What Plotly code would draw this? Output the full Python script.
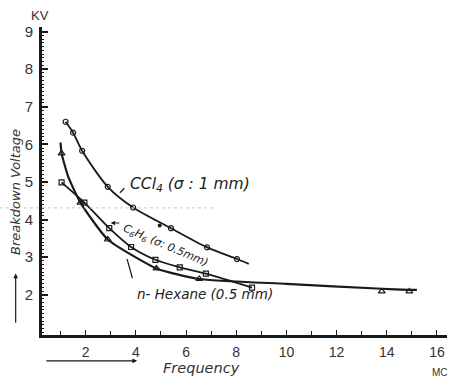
import plotly.graph_objects as go

# --- data ---
ccl4_x = [1.2, 1.5, 1.86, 2.88, 3.89, 5.4, 6.84, 8.03]
ccl4_y = [6.6, 6.31, 5.83, 4.87, 4.32, 3.77, 3.26, 2.95]
ccl4_line_x = [1.2, 1.5, 1.86, 2.88, 3.89, 5.4, 6.84, 8.03, 8.5]
ccl4_line_y = [6.6, 6.31, 5.83, 4.87, 4.32, 3.77, 3.26, 2.95, 2.82]
ccl4_dot_x = [4.95]
ccl4_dot_y = [3.84]

c6h6_x = [1.04, 1.95, 2.94, 3.81, 4.78, 5.75, 6.79, 8.63]
c6h6_y = [4.99, 4.45, 3.77, 3.27, 2.93, 2.73, 2.56, 2.19]

hex_x = [1.04, 1.79, 2.88, 4.82, 6.53, 13.8, 14.9]
hex_y = [5.76, 4.45, 3.47, 2.7, 2.42, 2.09, 2.09]
hex_line_x = [1.0, 1.04, 1.3, 1.79, 2.88, 4.82, 6.53, 10.0, 13.8, 14.9, 15.2]
hex_line_y = [6.05, 5.76, 5.15, 4.45, 3.47, 2.7, 2.42, 2.29, 2.16, 2.13, 2.13]

x_tickvals = [2, 4, 6, 8, 10, 12, 14, 16]
x_ticktext = ["2", "4", "6", "8", "10", "12", "14", "16"]
y_tickvals = [2, 3, 4, 5, 6, 7, 8, 9]

INK = "#1a1a1a"
HAND = "DejaVu Sans"

fig = go.Figure()

# curves
fig.add_trace(go.Scatter(x=ccl4_line_x, y=ccl4_line_y, mode="lines",
                         line=dict(color=INK, width=1.8, shape="spline", smoothing=0.8), hoverinfo="skip"))
fig.add_trace(go.Scatter(x=c6h6_x, y=c6h6_y, mode="lines",
                         line=dict(color=INK, width=1.8, shape="spline", smoothing=0.8), hoverinfo="skip"))
fig.add_trace(go.Scatter(x=hex_line_x, y=hex_line_y, mode="lines",
                         line=dict(color=INK, width=2.2, shape="spline", smoothing=0.5), hoverinfo="skip"))

# markers
fig.add_trace(go.Scatter(x=ccl4_x, y=ccl4_y, mode="markers",
                         marker=dict(symbol="circle-open", size=5, color=INK, line=dict(width=1.2))))
fig.add_trace(go.Scatter(x=ccl4_dot_x, y=ccl4_dot_y, mode="markers",
                         marker=dict(symbol="circle", size=4, color=INK)))
fig.add_trace(go.Scatter(x=c6h6_x, y=c6h6_y, mode="markers",
                         marker=dict(symbol="square-open", size=5, color=INK, line=dict(width=1.2))))
fig.add_trace(go.Scatter(x=hex_x, y=hex_y, mode="markers",
                         marker=dict(symbol="triangle-up-open", size=6, color=INK, line=dict(width=1.2))))

fig.update_layout(
    width=452, height=378,
    margin=dict(l=42, r=5, t=27, b=43),
    paper_bgcolor="white", plot_bgcolor="white",
    showlegend=False,
    font=dict(family="Liberation Sans", color=INK, size=14),
)

fig.update_xaxes(
    range=[0.26, 16.4], showgrid=False, zeroline=False,
    showline=True, linecolor=INK, linewidth=2.5,
    tickvals=x_tickvals, ticktext=x_ticktext,
    ticks="inside", ticklen=5, tickwidth=1.2, tickcolor=INK,
    minor=dict(dtick=1, ticks="inside", ticklen=4, tickwidth=1, tickcolor=INK),
    tickfont=dict(size=14, family="Liberation Sans", color="#333"),
    ticklabelstandoff=2,
)
fig.update_yaxes(
    range=[0.93, 9.12], showgrid=False, zeroline=False,
    showline=True, linecolor=INK, linewidth=3,
    tickvals=y_tickvals,
    ticks="inside", ticklen=6, tickwidth=1.5, tickcolor=INK,
    minor=dict(dtick=0.1, ticks="inside", ticklen=2, tickwidth=1, tickcolor=INK),
    tickfont=dict(size=15, family="Liberation Sans", color="#333"),
    ticklabelstandoff=3,
)

# scan artefact: faint dotted line
fig.add_shape(type="line", xref="paper", yref="y", x0=-0.104, x1=0.427, y0=4.31, y1=4.31,
              line=dict(color="#c8c8c8", width=1, dash="dot"))

ann = []
ann.append(dict(xref="paper", yref="paper", x=-0.005, y=1.0, yshift=2, text="KV",
                showarrow=False, xanchor="center", yanchor="bottom",
                font=dict(size=13, family="Liberation Sans", color="#333")))
ann.append(dict(xref="paper", yref="paper", x=0.983, y=0, yshift=-30, text="MC",
                showarrow=False, xanchor="center", yanchor="top",
                font=dict(size=10, family="Liberation Sans", color="#333")))
ann.append(dict(xref="paper", yref="paper", x=0.393, y=0, yshift=-33, text="<i>Frequency</i>",
                showarrow=False, xanchor="center", yanchor="middle",
                font=dict(size=14.5, family=HAND, color="#333")))
ann.append(dict(xref="paper", yref="paper", x=-0.067, y=0.464, text="<i>Breakdown Voltage</i>",
                showarrow=False, textangle=-90, xanchor="center", yanchor="middle",
                font=dict(size=13, family=HAND, color="#333")))
# curve labels
ann.append(dict(x=6.15, y=4.93, text="<i>CCl<sub>4</sub> (σ : 1 mm)</i>", showarrow=False,
                xanchor="center", yanchor="middle", font=dict(size=15.5, family=HAND, color="#222")))
ann.append(dict(x=5.2, y=3.3, text="<i>C<sub>6</sub>H<sub>6</sub> (σ: 0.5mm)</i>", showarrow=False,
                textangle=23, xanchor="center", yanchor="middle",
                font=dict(size=11, family=HAND, color="#222")))
ann.append(dict(x=6.75, y=2.03, text="<i>n- Hexane (0.5 mm)</i>", showarrow=False,
                xanchor="center", yanchor="middle", font=dict(size=13.5, family=HAND, color="#222")))
fig.update_layout(annotations=ann)

# leader lines / arrows
fig.add_annotation(x=3.36, y=4.71, ax=3.6, ay=4.87, axref="x", ayref="y", text="", showarrow=True,
                   arrowhead=0, arrowwidth=1.3, arrowcolor=INK)
fig.add_annotation(x=3.0, y=3.91, ax=3.4, ay=3.91, axref="x", ayref="y", text="", showarrow=True,
                   arrowhead=2, arrowsize=0.8, arrowwidth=1.1, arrowcolor=INK)
fig.add_annotation(x=3.65, y=2.95, ax=3.88, ay=2.4, axref="x", ayref="y", text="", showarrow=True,
                   arrowhead=0, arrowwidth=1.2, arrowcolor=INK)
# axis-direction arrows (below x-axis, left of y-axis)
fig.add_annotation(xref="x domain", yref="y domain", x=0.235, y=-0.084, ax=0.007, ay=-0.084,
                   axref="x domain", ayref="y domain", text="", showarrow=True,
                   arrowhead=2, arrowsize=0.8, arrowwidth=1.2, arrowcolor=INK)
fig.add_annotation(xref="x domain", yref="y domain", x=-0.065, y=0.2, ax=-0.065, ay=0.035,
                   axref="x domain", ayref="y domain", text="", showarrow=True,
                   arrowhead=2, arrowsize=0.8, arrowwidth=1.2, arrowcolor=INK)

fig.write_html("out.html")
